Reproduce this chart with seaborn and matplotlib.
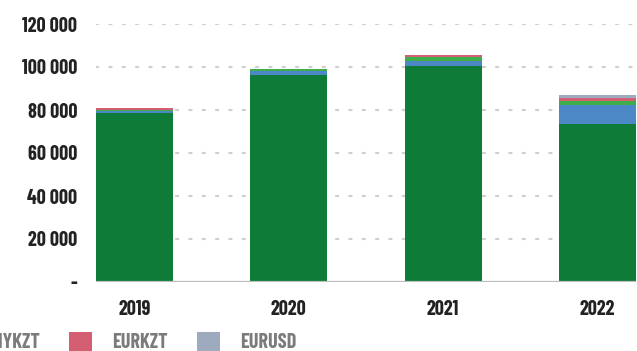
import matplotlib
matplotlib.use("Agg")
import matplotlib.pyplot as plt
from matplotlib.patches import Patch
from matplotlib.ticker import FuncFormatter
import pandas as pd
import seaborn as sns

years = [2019, 2020, 2021, 2022]
usdkzt = [78800, 96400, 100300, 73700]
rubkzt = [700, 1600, 2600, 8600]
cnykzt = [600, 1100, 1800, 1800]
eurkzt = [700, 200, 700, 1700]
eurusd = [0, 0, 0, 1300]

series_names = ["USDKZT", "RUBKZT", "CNYKZT", "EURKZT", "EURUSD"]
series_values = [usdkzt, rubkzt, cnykzt, eurkzt, eurusd]
colors = ["#0e7b38", "#4d88c6", "#3fae4a", "#d45f73", "#9eabbe"]

sns.set_theme(style="white")
plt.rcParams["font.family"] = ["Barlow Condensed", "Oswald",
                               "Roboto Condensed", "DejaVu Sans"]

rows = []
for name, vals in zip(series_names, series_values):
    for i, v in enumerate(vals):
        rows.append({"idx": i, "series": name, "value": v})
df = pd.DataFrame(rows)

fig = plt.figure(figsize=(6.37, 3.51), dpi=100)
ax = fig.add_axes([96 / 637, 1 - 282 / 351, 540 / 637, 258 / 351])

# seaborn stacks the last hue level at the bottom
hue_order = series_names[::-1]
palette = dict(zip(series_names, colors))
sns.histplot(data=df, x="idx", weights="value", hue="series",
             hue_order=hue_order, palette=palette, multiple="stack",
             discrete=True, shrink=0.5, alpha=1, linewidth=0,
             legend=False, ax=ax, zorder=3)

ax.set_xlim(-0.25, 3.25)
ax.set_ylim(0, 120000)
ax.set_yticks(range(0, 120001, 20000))
ax.yaxis.set_major_formatter(FuncFormatter(
    lambda v, p: "-" if v == 0 else f"{int(v):,}".replace(",", " ")))
ax.set_xticks(range(len(years)))
ax.set_xticklabels([str(y) for y in years])
ax.set_xlabel("")
ax.set_ylabel("")

for y in range(20000, 120001, 20000):
    ax.axhline(y, color="#cfcfcf", linestyle=(0, (1, 5)), linewidth=1.6,
               zorder=1, dash_capstyle="round")
ax.axhline(0, color="#bdbdbd", linewidth=1.6, zorder=4)

for s in ax.spines.values():
    s.set_visible(False)
ax.tick_params(axis="both", length=0, labelsize=14.5, labelcolor="#222222")
ax.tick_params(axis="y", pad=13.5)
ax.tick_params(axis="x", pad=13)
for lbl in ax.get_xticklabels() + ax.get_yticklabels():
    lbl.set_fontweight("bold")

handles = [Patch(facecolor=c, edgecolor="none") for c in colors]
leg = fig.legend(handles, series_names, ncol=5, loc="lower left",
                 bbox_to_anchor=(-0.527, -0.055), frameon=False,
                 prop={"size": 14.5, "weight": "bold"}, handlelength=1.15,
                 handleheight=1.1, handletextpad=1.0, columnspacing=1.45)
for t in leg.get_texts():
    t.set_color("#7b7b7b")

fig.savefig("out.png", dpi=100)
